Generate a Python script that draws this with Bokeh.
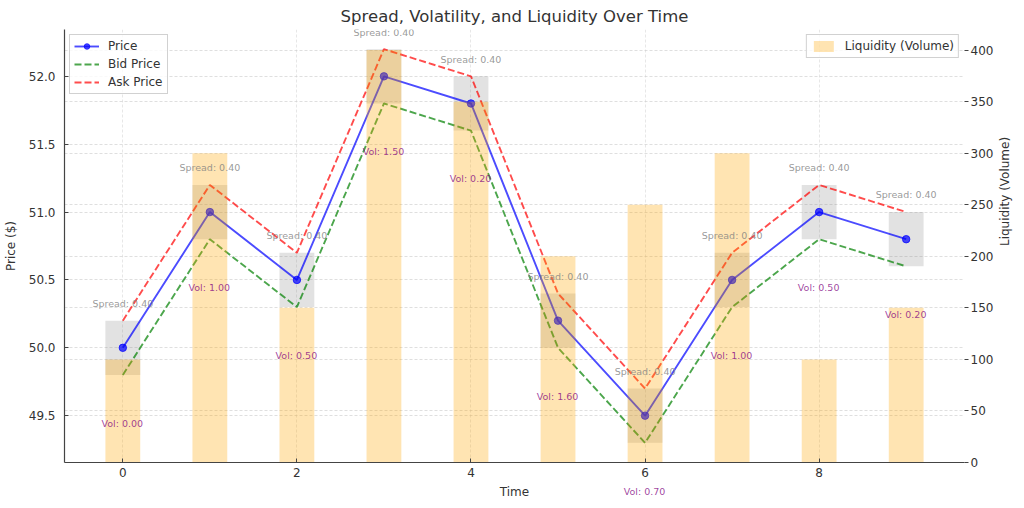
import math
from bokeh.plotting import figure
from bokeh.models import (Range1d, LinearAxis, FixedTicker, Legend, LegendItem,
                          ColumnDataSource, LabelSet, Grid, PrintfTickFormatter)
from bokeh.core.properties import value
from bokeh.embed import file_html
from bokeh.resources import INLINE
try:
    from bokeh.models import HTMLLabelSet as VolLabelSet
    VOL_BASELINE = "bottom"
except ImportError:
    VolLabelSet = LabelSet
    VOL_BASELINE = "alphabetic"

# ---- data ----
time = [0, 1, 2, 3, 4, 5, 6, 7, 8, 9]
price = [50.0, 51.0, 50.5, 52.0, 51.8, 50.2, 49.5, 50.5, 51.0, 50.8]
bid = [49.8, 50.8, 50.3, 51.8, 51.6, 50.0, 49.3, 50.3, 50.8, 50.6]
ask = [50.2, 51.2, 50.7, 52.2, 52.0, 50.4, 49.7, 50.7, 51.2, 51.0]
liquidity = [100, 300, 150, 400, 350, 200, 250, 300, 100, 150]
volatility = [0.00, 1.00, 0.50, 1.50, 0.20, 1.60, 0.70, 1.00, 0.50, 0.20]
time_ticks = [0, 2, 4, 6, 8]
price_ticks = [49.5, 50.0, 50.5, 51.0, 51.5, 52.0]
liq_ticks = [0, 50, 100, 150, 200, 250, 300, 350, 400]

FONT = "DejaVu Sans"
TXT = "#333333"
FS = "12px"

spread = [a - b for a, b in zip(ask, bid)]
src = ColumnDataSource(dict(
    time=time, price=price, bid=bid, ask=ask, spread=spread, liq=liquidity,
    spread_y=[pr + 0.3 for pr in price],
    spread_text=["Spread: %.2f" % s for s in spread],
    vol_y=[pr - 0.6 for pr in price],
    vol_text=["Vol: %.2f" % v for v in volatility],
))

p = figure(frame_width=900, frame_height=433,
           x_range=Range1d(-0.67, 9.67), y_range=Range1d(49.155, 52.345),
           output_backend="svg", toolbar_location=None,
           min_border_left=56, min_border_right=50, min_border_top=28,
           min_border_bottom=38)
p.extra_y_ranges = {"liq": Range1d(0, 420)}
p.outline_line_color = None
p.background_fill_color = "white"

p.title.text = "Spread, Volatility, and Liquidity Over Time"
p.title.align = "center"
p.title.text_font = FONT
p.title.text_font_size = "16.5px"
p.title.text_font_style = "normal"
p.title.text_color = TXT
p.title.standoff = 8

# axes
p.xaxis.ticker = FixedTicker(ticks=time_ticks)
p.yaxis.ticker = FixedTicker(ticks=price_ticks)
p.yaxis.formatter = PrintfTickFormatter(format="%.1f")
p.xaxis.axis_label = "Time"
p.yaxis.axis_label = "Price ($)"
for ax in (p.xaxis[0], p.yaxis[0]):
    ax.axis_line_color = "#444444"
    ax.axis_line_width = 1.2
    ax.major_tick_in = 4
    ax.major_tick_out = 0
    ax.major_tick_line_color = "#444444"
    ax.minor_tick_line_color = None
    ax.major_label_text_font = FONT
    ax.major_label_text_font_size = FS
    ax.major_label_text_color = TXT
    ax.axis_label_text_font = FONT
    ax.axis_label_text_font_size = FS
    ax.axis_label_text_font_style = "normal"
    ax.axis_label_text_color = TXT
p.yaxis.major_label_standoff = 9
p.yaxis.axis_label_standoff = 8
p.xaxis.major_label_standoff = 5
p.xaxis.axis_label_standoff = 5

raxis = LinearAxis(y_range_name="liq", ticker=FixedTicker(ticks=liq_ticks),
                   axis_label="Liquidity (Volume)")
raxis.axis_line_color = None
raxis.major_tick_in = 0
raxis.major_tick_out = 4
raxis.major_tick_line_color = "#444444"
raxis.minor_tick_line_color = None
raxis.major_label_standoff = 2
raxis.major_label_text_font = FONT
raxis.major_label_text_font_size = FS
raxis.major_label_text_color = TXT
raxis.axis_label_text_font = FONT
raxis.axis_label_text_font_size = FS
raxis.axis_label_text_font_style = "normal"
raxis.axis_label_text_color = TXT
raxis.axis_label_standoff = 9
raxis.axis_label_orientation = math.pi / 2
p.add_layout(raxis, "right")

# grids
for g in (p.xgrid[0], p.ygrid[0]):
    g.grid_line_color = "#cccccc"
    g.grid_line_dash = "3 2"
    g.grid_line_width = 0.8
    g.grid_line_alpha = 0.8
p.xgrid.grid_line_alpha = 0.6
g2 = Grid(dimension=1, ticker=raxis.ticker, y_range_name="liq",
          grid_line_color="#cccccc", grid_line_dash="3 2", grid_line_width=0.8,
          grid_line_alpha=0.8)
p.add_layout(g2)

# spread boxes
p.rect(x="time", y="price", width=0.4, height="spread", source=src,
       fill_color="gray", fill_alpha=0.23, line_color=None)

# lines
r_price = p.line("time", "price", source=src, line_color="blue", line_alpha=0.7,
                 line_width=1.9)
r_pm = p.scatter("time", "price", source=src, size=7.5, fill_color="blue",
                 line_color="blue", fill_alpha=0.7, line_alpha=0.7)
r_bid = p.line("time", "bid", source=src, line_color="green", line_alpha=0.7,
               line_width=1.9, line_dash="7 3")
r_ask = p.line("time", "ask", source=src, line_color="red", line_alpha=0.7,
               line_width=1.9, line_dash="7 3")

# liquidity bars
r_bar = p.vbar(x="time", top="liq", width=0.4, source=src, y_range_name="liq",
               fill_color="orange", fill_alpha=0.3, line_color=None)

# annotations
p.add_layout(LabelSet(x="time", y="spread_y", text="spread_text", source=src,
                      text_align="center", text_baseline="alphabetic",
                      text_font=value(FONT), text_font_size=value("9.5px"),
                      text_color="gray", text_alpha=0.8))
p.add_layout(VolLabelSet(x="time", y="vol_y", text="vol_text", source=src,
                         text_align="center", text_baseline=VOL_BASELINE,
                         text_font=value(FONT), text_font_size=value("9.5px"),
                         text_color="purple", text_alpha=0.75))

def style_legend(lg):
    lg.label_text_font = FONT
    lg.label_text_font_size = FS
    lg.label_text_color = TXT
    lg.border_line_color = "#cccccc"
    lg.border_line_alpha = 0.9
    lg.background_fill_alpha = 0.8
    lg.margin = 5
    lg.padding = 4
    lg.spacing = 4
    lg.label_height = 14
    lg.glyph_height = 14
    lg.glyph_width = 25
    lg.label_standoff = 9

leg1 = Legend(items=[LegendItem(label="Price", renderers=[r_price, r_pm]),
                     LegendItem(label="Bid Price", renderers=[r_bid]),
                     LegendItem(label="Ask Price", renderers=[r_ask])],
              location="top_left")
style_legend(leg1)
leg2 = Legend(items=[LegendItem(label="Liquidity (Volume)", renderers=[r_bar])],
              location="top_right")
style_legend(leg2)
p.add_layout(leg1)
p.add_layout(leg2)

open("out.html", "w").write(file_html(p, INLINE))
